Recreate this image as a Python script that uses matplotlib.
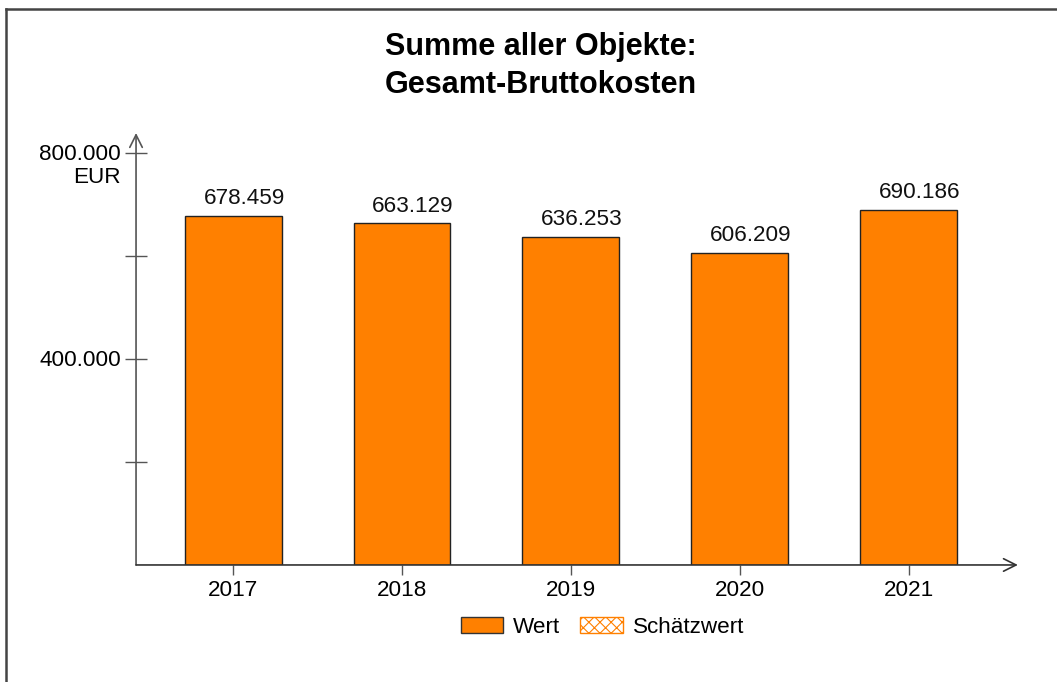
import matplotlib
matplotlib.use("Agg")
import matplotlib.pyplot as plt
import matplotlib.transforms as mtransforms
from matplotlib.patches import Patch
from matplotlib.lines import Line2D

plt.rcParams['font.family'] = ['Liberation Sans', 'DejaVu Sans']
plt.rcParams['hatch.color'] = "#FF8000"
plt.rcParams['hatch.linewidth'] = 0.8

# ---- data ----
years = ["2017", "2018", "2019", "2020", "2021"]
values = [678459, 663129, 636253, 606209, 690186]
value_labels = ["678.459", "663.129", "636.253", "606.209", "690.186"]
ytick_vals = [200000, 400000, 600000, 800000]
ytick_labels = ["", "400.000", "", "800.000\nEUR"]

bar_color = "#FF8000"
fs = 16.2

fig = plt.figure(figsize=(10.57, 6.82), dpi=100)
ax = fig.add_axes([0.1287, 0.1716, 0.963 - 0.1287, 0.805 - 0.1716])

x = list(range(len(years)))
ax.bar(x, values, width=0.574, color=bar_color, edgecolor="#222222", linewidth=1.0, zorder=2)

for xi, v, lab in zip(x, values, value_labels):
    ax.annotate(lab, (xi, v), xytext=(8, 5), textcoords="offset points",
                ha="center", va="bottom", fontsize=fs, color="#111111")

ax.set_xlim(-0.574, 4.645)
ax.set_ylim(0, 838800)

for s in ax.spines.values():
    s.set_visible(False)

# axes with open arrow heads
ax.annotate("", xy=(0, 1), xycoords="axes fraction", xytext=(0, 0),
            arrowprops=dict(arrowstyle="->,head_length=0.9,head_width=0.45", color="#555555", lw=1.2,
                            shrinkA=0, shrinkB=0))
ax.annotate("", xy=(1, 0), xycoords="axes fraction", xytext=(0, 0),
            arrowprops=dict(arrowstyle="->,head_length=0.9,head_width=0.45", color="#333333", lw=1.2,
                            shrinkA=0, shrinkB=0))

ax.set_xticks(x)
ax.set_xticklabels(years, fontsize=fs)
ax.tick_params(axis="x", direction="out", length=7, width=1, color="#555555", pad=4)

ax.set_yticks(ytick_vals)
ax.set_yticklabels(ytick_labels, fontsize=fs, linespacing=1.15)
ax.tick_params(axis="y", direction="inout", length=16, width=1, color="#555555", pad=3)
off = mtransforms.ScaledTranslation(0, 6.8 / 72, fig.dpi_scale_trans)
for lbl in ax.get_yticklabels():
    lbl.set_verticalalignment("top")
    lbl.set_transform(lbl.get_transform() + off)

fig.text(0.5115, 0.903, "Summe aller Objekte:\nGesamt-Bruttokosten", ha="center", va="center",
         fontsize=22, fontweight="bold", linespacing=1.32)

handles = [Patch(facecolor=bar_color, edgecolor="#333333", label="Wert"),
           Patch(facecolor="white", edgecolor=bar_color, hatch="xxx", label="Schätzwert")]
leg = fig.legend(handles=handles, loc="center", bbox_to_anchor=(0.570, 0.080), ncol=2,
                 frameon=False, fontsize=fs, handlelength=1.87, handleheight=0.75,
                 columnspacing=0.9, handletextpad=0.45)

# page frame: top and left lines
fig.add_artist(Line2D([6 / 1057, 1.0], [1 - 9 / 682, 1 - 9 / 682], transform=fig.transFigure,
                      color="#444444", lw=1.8))
fig.add_artist(Line2D([6 / 1057, 6 / 1057], [0, 1 - 9 / 682], transform=fig.transFigure,
                      color="#444444", lw=1.8))

fig.savefig("out.png", dpi=100)
